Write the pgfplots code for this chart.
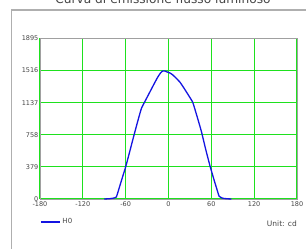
\documentclass[border=0pt]{standalone}
\usepackage{pgfplots}
\pgfplotsset{compat=1.18}
\usepackage{fontspec}
\setmainfont{DejaVu Sans}
\definecolor{gridgreen}{RGB}{30,225,30}
\definecolor{curveblue}{RGB}{20,20,225}
\definecolor{boxgray}{RGB}{160,160,160}
\definecolor{framegray}{RGB}{175,175,175}
\definecolor{txtgray}{RGB}{70,70,70}
\begin{document}
\begin{tikzpicture}
\clip (0pt,0pt) rectangle (306pt,249pt);
\useasboundingbox (0pt,0pt) rectangle (306pt,249pt);
\fill[white] (0pt,0pt) rectangle (306pt,249pt);
\draw[framegray, line width=1.3pt] (11.5pt,-10pt) -- (11.5pt,239pt) -- (320pt,239pt);
\node[anchor=base, text=txtgray, font=\fontsize{12.2}{13}\selectfont, inner sep=0pt] at (163pt,245pt) {Curva di emissione flusso luminoso};
\begin{axis}[
  at={(40pt,50pt)}, anchor=south west,
  scale only axis, width=257pt, height=160.5pt,
  xmin=-180, xmax=180, ymin=0, ymax=1895,
  clip=false,
  xtick={-180,-120,-60,0,60,120,180},
  ytick={0,379,758,1137,1516,1895},
  grid=major,
  major grid style={gridgreen, line width=1.2pt},
  major tick length=0pt,
  axis line style={boxgray, line width=0.8pt},
  tick label style={font=\fontsize{6.5}{7}\selectfont, text=txtgray},
  /pgf/number format/assume math mode=true,
  /pgf/number format/set thousands separator={},
  yticklabel style={inner xsep=1.5pt},
  xticklabel style={inner ysep=2.5pt},
  legend style={at={(axis description cs:0,-0.143)}, anchor=west, draw=none, fill=none, inner sep=0pt, font=\fontsize{7}{8}\selectfont, text=txtgray},
  legend image code/.code={\draw[#1] (0pt,0pt) -- (19pt,0pt);},
  legend cell align=left,
]
\addplot[curveblue, line width=1.3pt, smooth, tension=0.3] coordinates {
(-90,0) (-82,4) (-76,12) (-73,24) (-68,160) (-64,270) (-60,379) (-54,570) (-50,700) (-44,890)
(-38,1068) (-32,1168) (-26,1265) (-20,1362) (-15,1440) (-11,1490) (-8,1512)
(-5,1511) (-2,1500) (2,1488) (6,1465) (10,1432) (16,1380) (22,1305) (28,1225) (34,1140)
(40,975) (46,800) (52,590) (58,395) (64,220) (68,110) (71,32) (76,9) (82,3) (88,0)
};
\addlegendentry{H0}
\node[anchor=east, inner sep=0pt, font=\fontsize{7.5}{8}\selectfont, text=txtgray] at (axis description cs:1,-0.155) {Unit: cd};
\end{axis}
\end{tikzpicture}
\end{document}
